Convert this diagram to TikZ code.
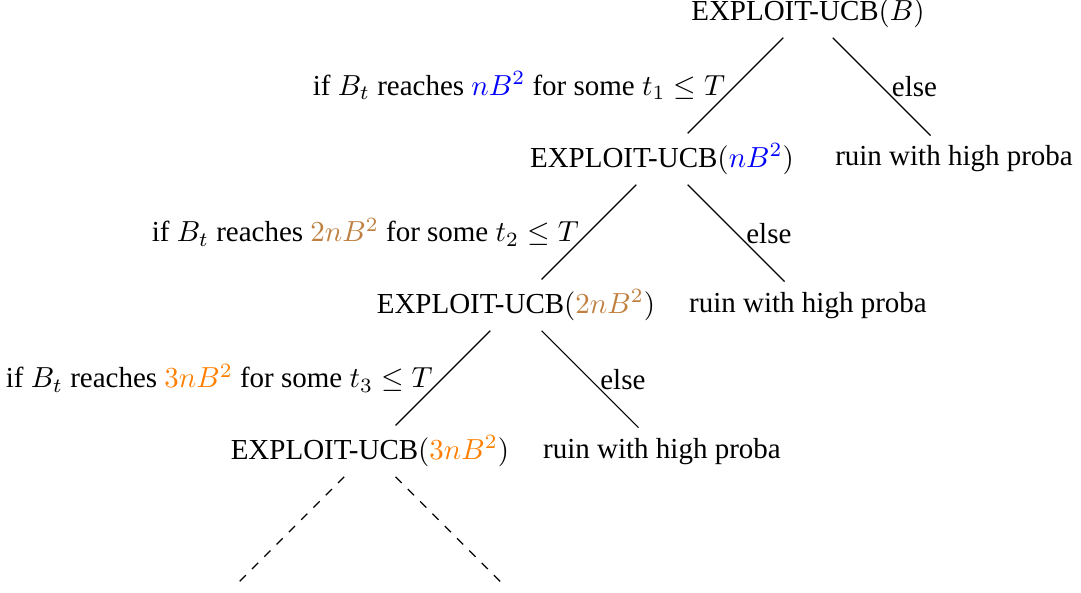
\documentclass[tikz,border=0pt]{standalone}
\usepackage[no-math]{fontspec}
\setmainfont{Liberation Serif}
\usepackage{amsmath}
\usepackage{xcolor}
\usetikzlibrary{positioning}

\begin{document}
\begin{tikzpicture}[
        algo/.style={rectangle},
        ruin/.style={rectangle},
        stub/.style={rectangle},
        branch/.style={black},
        cont/.style={black, dashed},
        node distance=1.77cm and 1.77cm, on grid
    ]
        \useasboundingbox (-9.794,-7.018) rectangle (3.309,0.158);

        \node[algo] (ucb0) {EXPLOIT-UCB$(B)$};
        \node[algo, below left=of ucb0] (ucb1) {EXPLOIT-UCB$(\textcolor{blue}{nB^2})$};
        \node[ruin, below right=of ucb0] (ruin1) {ruin with high proba};
        \node[algo, below left=of ucb1] (ucb2) {EXPLOIT-UCB$(\textcolor{brown}{2nB^2})$};
        \node[ruin, below right=of ucb1] (ruin2) {ruin with high proba};
        \node[algo, below left=of ucb2] (ucb3) {EXPLOIT-UCB$(\textcolor{orange}{3nB^2})$};
        \node[ruin, below right=of ucb2] (ruin3) {ruin with high proba};
        \node[stub, below left=of ucb3] (more1) {};
        \node[stub, below right=of ucb3] (more2) {};

        \draw[branch] (ucb0) -- node[left] {if $B_t$ reaches $\textcolor{blue}{nB^2}$ for some $t_1 \leq T$} (ucb1);
        \draw[branch] (ucb0) -- node[right] {else} (ruin1);
        \draw[branch] (ucb1) -- node[left] {if $B_t$ reaches $\textcolor{brown}{2nB^2}$ for some $t_2 \leq T$} (ucb2);
        \draw[branch] (ucb1) -- node[right] {else} (ruin2);
        \draw[branch] (ucb2) -- node[left] {if $B_t$ reaches $\textcolor{orange}{3nB^2}$ for some $t_3 \leq T$} (ucb3);
        \draw[branch] (ucb2) -- node[right] {else} (ruin3);
        \draw[cont] (ucb3) -- (more1);
        \draw[cont] (ucb3) -- (more2);
    \end{tikzpicture}
\end{document}
